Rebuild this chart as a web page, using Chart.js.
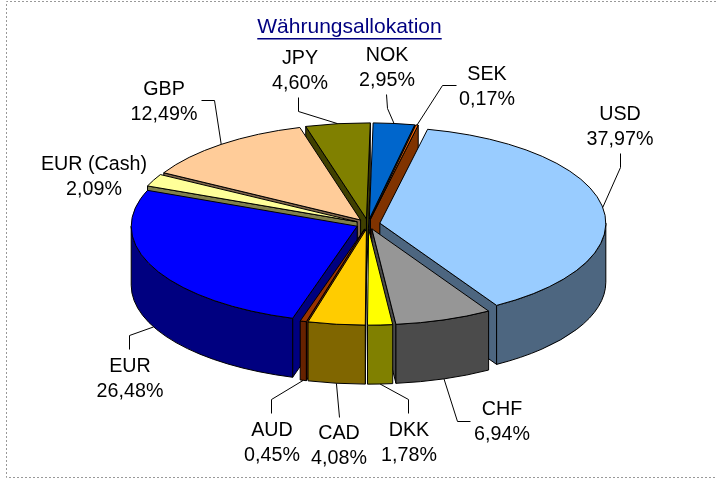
<!DOCTYPE html>
<html>
<head>
<meta charset="utf-8">
<title>Währungsallokation</title>
<script src="https://cdn.jsdelivr.net/npm/chart.js@4"></script>
<style>
  html, body { margin: 0; padding: 0; background: #fff; }
  #wrap { position: relative; width: 716px; height: 478px; }
</style>
</head>
<body>
<div id="wrap"><canvas id="pieChart" width="716" height="478"></canvas></div>
<script>
const categories = ['USD', 'CHF', 'DKK', 'CAD', 'AUD', 'EUR', 'EUR (Cash)', 'GBP', 'JPY', 'NOK', 'SEK'];
const shares = [37.97, 6.94, 1.78, 4.08, 0.45, 26.48, 2.09, 12.49, 4.60, 2.95, 0.17];
const sliceColors = ['#99ccff', '#969696', '#ffff00', '#ffcc00', '#993300', '#0000ff', '#ffff99', '#ffcc99', '#808000', '#0066cc', '#ff6600'];
const wallColors = ['#4d6680', '#4b4b4b', '#808000', '#806600', '#662200', '#000080', '#80804d', '#80664d', '#404000', '#003366', '#803300'];

const titleText = 'Währungsallokation';

// pie look
const tilt = 0.425;
const depth = 59;
const gap = 12;

// label centre and the elbow points of the leader line, in label order
const labelSpots = {
  'USD': { x: 620, y: 114.5, line: [[620, 153], [620, 167]] },
  'CHF': { x: 502, y: 409.5, line: [[470, 421], [457, 421]] },
  'DKK': { x: 409, y: 430.5, line: [[408, 413], [408, 399]] },
  'CAD': { x: 339, y: 433.5, line: [[339, 417]] },
  'AUD': { x: 272, y: 430.5, line: [[271, 413], [271, 399]] },
  'EUR': { x: 130, y: 366.5, line: [[129, 349], [129, 335]] },
  'EUR (Cash)': { x: 94, y: 164.5, line: null },
  'GBP': { x: 164, y: 89.5, line: [[201, 100], [214, 100]] },
  'JPY': { x: 300, y: 58.5, line: [[298, 97], [298, 111]] },
  'NOK': { x: 387, y: 55.5, line: [[386, 94], [387, 108]] },
  'SEK': { x: 487, y: 74.5, line: [[456, 85], [442, 85]] }
};

function sliceGeom(arc) {
  const mid = (arc.startAngle + arc.endAngle) / 2;
  return {
    mid: mid,
    cx: arc.x + Math.cos(mid) * gap,
    cy: arc.y + Math.sin(mid) * gap * tilt,
    r: arc.outerRadius
  };
}

function wallPath(ctx, g, a0, a1) {
  ctx.beginPath();
  ctx.ellipse(g.cx, g.cy, g.r, g.r * tilt, 0, a0, a1);
  ctx.ellipse(g.cx, g.cy + depth, g.r, g.r * tilt, 0, a1, a0, true);
  ctx.closePath();
  ctx.fill();
  ctx.stroke();
}

function radialWall(ctx, g, a) {
  const rx = g.cx + Math.cos(a) * g.r;
  const ry = g.cy + Math.sin(a) * g.r * tilt;
  ctx.beginPath();
  ctx.moveTo(g.cx, g.cy);
  ctx.lineTo(rx, ry);
  ctx.lineTo(rx, ry + depth);
  ctx.lineTo(g.cx, g.cy + depth);
  ctx.closePath();
  ctx.fill();
  ctx.stroke();
}

const pie3d = {
  id: 'pie3d',
  beforeDatasetsDraw(chart) {
    const ctx = chart.ctx;
    const arcs = chart.getDatasetMeta(0).data;
    // back slices first
    const order = arcs.map((a, i) => i).sort((p, q) => {
      return Math.sin((arcs[p].startAngle + arcs[p].endAngle) / 2) - Math.sin((arcs[q].startAngle + arcs[q].endAngle) / 2);
    });
    ctx.save();
    ctx.lineWidth = 1;
    ctx.lineJoin = 'round';
    ctx.strokeStyle = '#000';
    order.forEach(i => {
      const arc = arcs[i];
      const g = sliceGeom(arc);
      ctx.fillStyle = wallColors[i];
      if (Math.cos(arc.startAngle) < 0) radialWall(ctx, g, arc.startAngle);
      if (Math.cos(arc.endAngle) > 0) radialWall(ctx, g, arc.endAngle);
      // outer wall, only the part turned to the viewer
      [0, Math.PI * 2].forEach(turn => {
        const a0 = Math.max(arc.startAngle, turn);
        const a1 = Math.min(arc.endAngle, turn + Math.PI);
        if (a1 > a0) wallPath(ctx, g, a0, a1);
      });
      // top face, drawn by the library inside a squashed context
      ctx.save();
      ctx.translate(g.cx, g.cy);
      ctx.scale(1, tilt);
      ctx.translate(-arc.x, -arc.y);
      arc.draw(ctx);
      ctx.restore();
      ctx.beginPath();
      ctx.moveTo(g.cx, g.cy);
      ctx.ellipse(g.cx, g.cy, g.r, g.r * tilt, 0, arc.startAngle, arc.endAngle);
      ctx.closePath();
      ctx.stroke();
    });
    ctx.restore();
    return false;
  },
  afterDraw(chart) {
    const ctx = chart.ctx;
    const arcs = chart.getDatasetMeta(0).data;
    ctx.save();

    // dotted frame, open on the right
    ctx.strokeStyle = '#999';
    ctx.setLineDash([2, 2]);
    ctx.lineWidth = 1;
    ctx.beginPath();
    ctx.moveTo(716, 1.5);
    ctx.lineTo(6.5, 1.5);
    ctx.lineTo(6.5, 477.5);
    ctx.lineTo(716, 477.5);
    ctx.stroke();
    ctx.setLineDash([]);

    // title
    ctx.font = '21px "Liberation Sans"';
    ctx.textAlign = 'center';
    ctx.textBaseline = 'middle';
    ctx.fillStyle = '#000080';
    ctx.fillText(titleText, 349.5, 27);
    const w = ctx.measureText(titleText).width;
    ctx.fillRect(349.5 - w / 2, 38, w, 1.5);

    // labels and leader lines
    ctx.font = '19.7px "Liberation Sans"';
    ctx.fillStyle = '#000';
    ctx.strokeStyle = '#000';
    categories.forEach((name, i) => {
      const spot = labelSpots[name];
      ctx.fillText(name, spot.x, spot.y);
      ctx.fillText(shares[i].toFixed(2).replace('.', ',') + '%', spot.x, spot.y + 25);
      if (!spot.line) return;
      const g = sliceGeom(arcs[i]);
      const front = Math.sin(g.mid) > 0;
      const endX = g.cx + Math.cos(g.mid) * g.r;
      const endY = g.cy + Math.sin(g.mid) * g.r * tilt + (front ? depth : 0);
      ctx.beginPath();
      spot.line.forEach((p, k) => {
        if (k === 0) ctx.moveTo(p[0] + 0.5, p[1] + 0.5);
        else ctx.lineTo(p[0] + 0.5, p[1] + 0.5);
      });
      ctx.lineTo(endX, endY);
      ctx.stroke();
    });
    ctx.restore();
  }
};

new Chart(document.getElementById('pieChart'), {
  type: 'pie',
  data: {
    labels: categories,
    datasets: [{
      data: shares,
      backgroundColor: sliceColors,
      borderWidth: 0,
      radius: 226
    }]
  },
  options: {
    responsive: false,
    animation: false,
    rotation: 12.2,
    layout: { padding: { left: 20, right: 0, top: 0, bottom: 30 } },
    plugins: {
      legend: { display: false },
      tooltip: { enabled: false },
      title: { display: false }
    }
  },
  plugins: [pie3d]
});
</script>
</body>
</html>
